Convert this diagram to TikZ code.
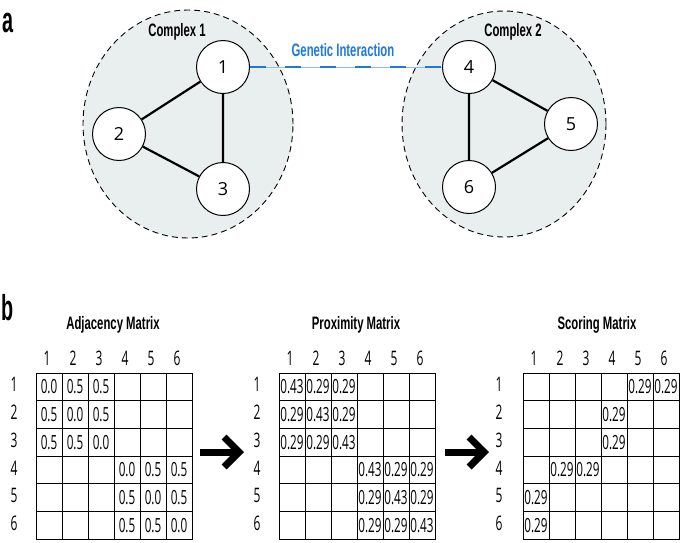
\documentclass[tikz,border=0pt]{standalone}
\usepackage{fontspec}
\setmainfont{Open Sans}
\newfontfamily\condfont[FakeStretch=0.63]{Liberation Sans}
\newfontfamily\narrowfont[FakeStretch=0.6]{Open Sans}
\newfontfamily\panelfont[FakeStretch=0.55]{Liberation Sans}
\usetikzlibrary{arrows.meta}

\definecolor{complexfill}{RGB}{233,239,239}
\definecolor{geneblue}{RGB}{30,120,225}

\begin{document}
\begin{tikzpicture}[x=1pt,y=-1pt,
    protein/.style={circle,draw,line width=1pt,fill=white,minimum size=53pt,inner sep=0pt,font=\fontsize{18}{18}\selectfont},
    complex/.style={draw,dash pattern=on 6pt off 4pt,line width=0.9pt,fill=complexfill},
    bond/.style={line width=2.2pt},
    title/.style={font=\condfont\bfseries\fontsize{18}{18}\selectfont},
    idx/.style={font=\narrowfont\fontsize{20}{20}\selectfont},
    cell/.style={draw,line width=1pt,minimum width=26pt,minimum height=27.7pt,inner sep=0pt},
    val/.style={inner sep=0pt,font=\narrowfont\fontsize{19.5}{19.5}\selectfont},
    panel/.style={font=\panelfont\bfseries\fontsize{36}{36}\selectfont},
    bigarrow/.style={line width=7pt,-{Straight Barb[length=15pt,width=30pt]}}]
    \useasboundingbox (0,0) rectangle (685,542);

    % panel a
    \node[panel] (pa) at (8,23) {a};
    \draw[complex] (188,124) ellipse [x radius=105pt, y radius=114pt];
    \draw[complex] (504,124) ellipse [x radius=102pt, y radius=113pt];
    \node[title] (cplx1) at (177,32) {Complex 1};
    \node[title] (cplx2) at (513,32) {Complex 2};
    \node[title,text=geneblue] (gene) at (343,50) {Genetic Interaction};

    \node[protein] (n1) at (223,67) {1};
    \node[protein] (n2) at (119,134) {2};
    \node[protein] (n3) at (223,189) {3};
    \node[protein] (n4) at (469,67) {4};
    \node[protein] (n5) at (571,124) {5};
    \node[protein] (n6) at (469,187) {6};

    \draw[bond] (n1) -- (n2) (n1) -- (n3) (n2) -- (n3);
    \draw[bond] (n4) -- (n5) (n4) -- (n6) (n5) -- (n6);
    \draw[geneblue!50,line width=0.6pt] (n1) -- (n4);
    \draw[geneblue,line width=2.4pt,dash pattern=on 16pt off 19pt] (n1) -- (n4);

    % panel b
    \node[panel] (pb) at (8,308) {b};

    \begin{scope}[shift={(36,373)},name prefix=adj-]
        \node[title] (title) at (77,-48) {Adjacency Matrix};
        \foreach \i in {1,...,6}{
            \node[idx] (col\i) at ({26*(\i-0.5)-2},-15) {\i};
            \node[idx] (row\i) at (-22,{27.7*(\i-0.5)-2}) {\i};
            \foreach \j in {1,...,6}
                \node[cell] (c\i\j) at ({26*(\j-0.5)},{27.7*(\i-0.5)}) {};
        }
        \foreach \b in {0,3}
            \foreach \i in {1,2,3}
                \foreach \j in {1,2,3}{
                    \pgfmathtruncatemacro\rr{\b+\i}
                    \pgfmathtruncatemacro\cc{\b+\j}
                    \node[val] (v\rr\cc) at (c\rr\cc) {\ifnum\i=\j\relax 0.0\else 0.5\fi};
                }
    \end{scope}

    \begin{scope}[shift={(279,373)},name prefix=prox-]
        \node[title] (title) at (77,-48) {Proximity Matrix};
        \foreach \i in {1,...,6}{
            \node[idx] (col\i) at ({26*(\i-0.5)-2},-15) {\i};
            \node[idx] (row\i) at (-22,{27.7*(\i-0.5)-2}) {\i};
            \foreach \j in {1,...,6}
                \node[cell] (c\i\j) at ({26*(\j-0.5)},{27.7*(\i-0.5)}) {};
        }
        \foreach \b in {0,3}
            \foreach \i in {1,2,3}
                \foreach \j in {1,2,3}{
                    \pgfmathtruncatemacro\rr{\b+\i}
                    \pgfmathtruncatemacro\cc{\b+\j}
                    \node[val] (v\rr\cc) at (c\rr\cc) {\ifnum\i=\j\relax 0.43\else 0.29\fi};
                }
    \end{scope}

    \begin{scope}[shift={(523,373)},name prefix=score-]
        \node[title] (title) at (74,-48) {Scoring Matrix};
        \foreach \i in {1,...,6}{
            \node[idx] (col\i) at ({26*(\i-0.5)-2},-15) {\i};
            \node[idx] (row\i) at (-24,{27.7*(\i-0.5)-2}) {\i};
            \foreach \j in {1,...,6}
                \node[cell] (c\i\j) at ({26*(\j-0.5)},{27.7*(\i-0.5)}) {};
        }
        \foreach \rr/\cc in {1/5,1/6,2/4,3/4,4/2,4/3,5/1,6/1}
            \node[val] (v\rr\cc) at (c\rr\cc) {0.29};
    \end{scope}

    % arrows between matrices
    \coordinate (a1s) at (200,452);
    \coordinate (a1e) at (244,452);
    \coordinate (a2s) at (445,452);
    \coordinate (a2e) at (489,452);
    \draw[bigarrow] (a1s) -- (a1e);
    \draw[bigarrow] (a2s) -- (a2e);
\end{tikzpicture}
\end{document}
